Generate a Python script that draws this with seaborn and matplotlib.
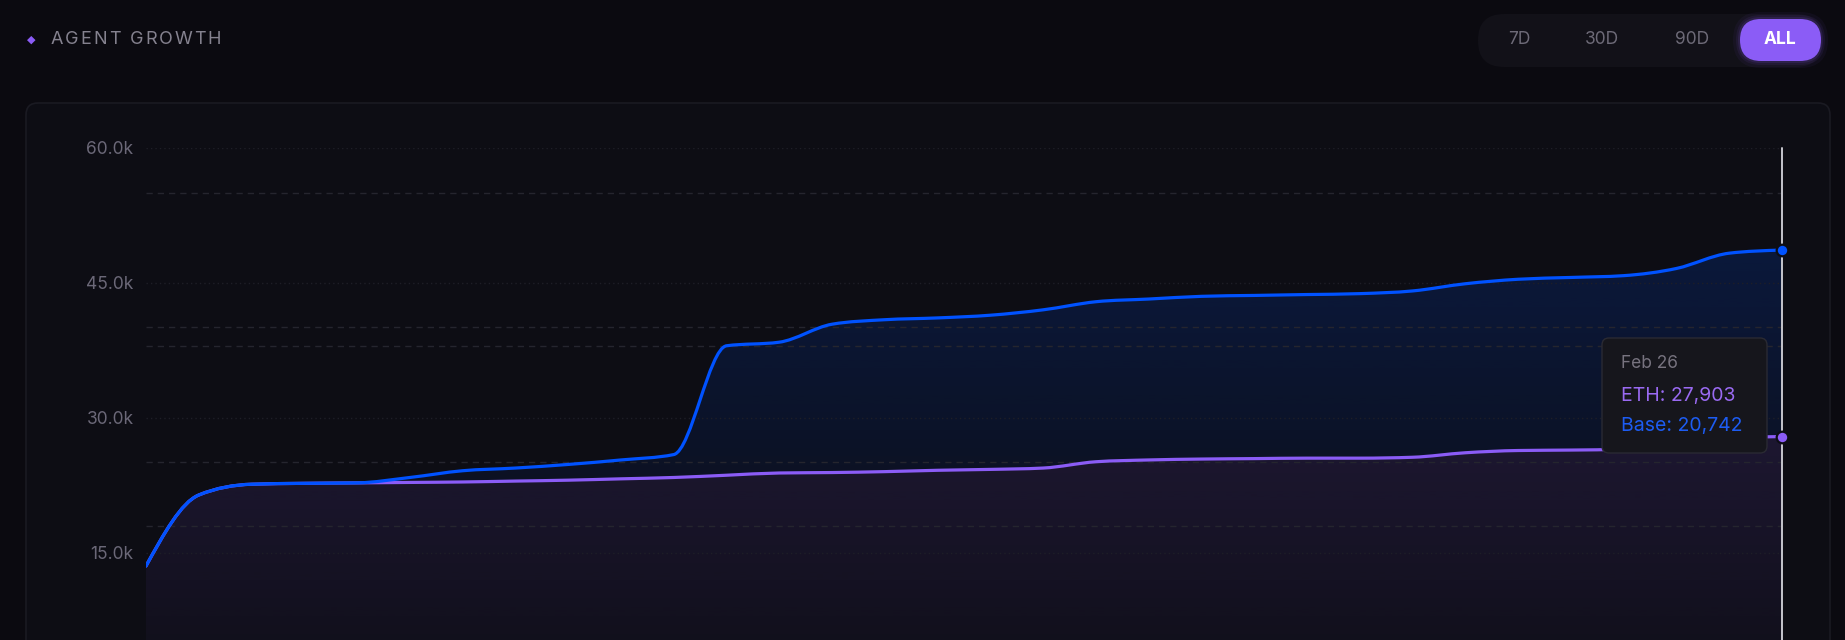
"""
Agent growth card - stacked area chart (ETH + Base), dark dashboard style.
"""

import numpy as np
import matplotlib
matplotlib.use("Agg")
import matplotlib.pyplot as plt
import seaborn as sns
from matplotlib.path import Path
from matplotlib.patches import PathPatch, FancyBboxPatch
from matplotlib.transforms import IdentityTransform
from matplotlib.ticker import FuncFormatter
from matplotlib.colors import to_rgb

W, H = 1845, 640

# ----- Data -----------------------------------------------------------------
dates = ["Jan 26", "Jan 27", "Jan 28", "Jan 29", "Jan 30", "Jan 31",
         "Feb 1", "Feb 2", "Feb 3", "Feb 4", "Feb 5", "Feb 6", "Feb 7",
         "Feb 8", "Feb 9", "Feb 10", "Feb 11", "Feb 12", "Feb 13", "Feb 14",
         "Feb 15", "Feb 16", "Feb 17", "Feb 18", "Feb 19", "Feb 20",
         "Feb 21", "Feb 22", "Feb 23", "Feb 24", "Feb 25", "Feb 26"]
eth_agents = [13500, 21400, 22600, 22700, 22750, 22800, 22850, 22950, 23050,
              23200, 23350, 23600, 23850, 23900, 24000, 24150, 24250, 24400,
              25100, 25300, 25400, 25450, 25500, 25500, 25600, 26100, 26350,
              26400, 26500, 27100, 27700, 27903]
base_agents = [0, 0, 0, 0, 0, 550, 1250, 1450, 1750, 2100, 2550, 14400,
               14550, 16500, 16900, 16950, 17150, 17600, 17800, 17900, 18100,
               18150, 18200, 18300, 18500, 18800, 19050, 19200, 19300, 19500,
               20600, 20742]
y_ticks = [15000, 30000, 45000, 60000]
dashed_levels = [18000, 25100, 38000, 40050, 55050]
ranges = ["7D", "30D", "90D", "ALL"]

ETH_COLOR = "#8b5cf6"
BASE_COLOR = "#0052ff"
PAGE_BG = "#0b0a10"
CARD_BG = "#0d0d14"

sns.set_theme(style="dark")
plt.rcParams["font.family"] = ["Inter", "DejaVu Sans"]


def px(x, y):
    # pixel (from top-left) -> figure fraction
    return x / W, 1 - y / H


def monotone_segments(xs, ys):
    # cubic bezier segments like d3's curveMonotoneX
    xs = np.asarray(xs, float)
    ys = np.asarray(ys, float)
    n = len(xs)
    h = np.diff(xs)
    s = np.diff(ys) / h
    m = np.zeros(n)
    for i in range(1, n - 1):
        p = (s[i - 1] * h[i] + s[i] * h[i - 1]) / (h[i - 1] + h[i])
        m[i] = (np.sign(s[i - 1]) + np.sign(s[i])) * min(abs(s[i - 1]), abs(s[i]), 0.5 * abs(p))
    m[0] = (3 * s[0] - m[1]) / 2
    m[-1] = (3 * s[-1] - m[-2]) / 2
    segs = []
    for i in range(n - 1):
        d = h[i] / 3
        segs.append(((xs[i], ys[i]), (xs[i] + d, ys[i] + m[i] * d),
                     (xs[i + 1] - d, ys[i + 1] - m[i + 1] * d), (xs[i + 1], ys[i + 1])))
    return segs


def curve_verts(segs, reverse=False):
    if not reverse:
        verts = [segs[0][0]]
        for p0, c1, c2, p1 in segs:
            verts += [c1, c2, p1]
    else:
        verts = [segs[-1][3]]
        for p0, c1, c2, p1 in reversed(segs):
            verts += [c2, c1, p0]
    return verts


def gradient_fill(ax, verts, codes, color, a_top, a_bot, y_top, y_bot, x0, x1, z):
    patch = PathPatch(Path(verts, codes), facecolor="none", edgecolor="none")
    ax.add_patch(patch)
    grad = np.zeros((256, 1, 4))
    grad[..., :3] = to_rgb(color)
    grad[:, 0, 3] = np.linspace(a_top, a_bot, 256)
    im = ax.imshow(grad, extent=[x0, x1, y_bot, y_top], origin="upper",
                   aspect="auto", interpolation="bilinear", zorder=z)
    im.set_clip_path(patch)


def rounded_box(fig, x, y, w, h, r, color, z, edge="none", lw=0, alpha=1):
    box = FancyBboxPatch((x, H - y - h), w, h,
                         boxstyle=f"round,pad=0,rounding_size={r}",
                         facecolor=color, edgecolor=edge, linewidth=lw,
                         alpha=alpha, transform=IdentityTransform(), zorder=z)
    fig.add_artist(box)


def spaced_text(fig, x_left, x_right, y, s, **kw):
    # letter-spaced caps title, stretched to the measured width
    renderer = fig.canvas.get_renderer()
    chars, widths = [], []
    for ch in s:
        t = fig.text(0, 0, ch if ch != " " else "n", **kw)
        w = t.get_window_extent(renderer).width
        if ch == " ":
            w *= 0.55
            t.remove()
            t = None
        chars.append(t)
        widths.append(w)
    track = ((x_right - x_left) - sum(widths)) / (len(s) - 1)
    x = x_left
    for t, w in zip(chars, widths):
        if t is not None:
            t.set_position(px(x, y))
            t.set_va("center")
        x += w + track


# ----- Figure & card --------------------------------------------------------
fig = plt.figure(figsize=(W / 100, H / 100), dpi=100, facecolor=PAGE_BG)
rounded_box(fig, 26, 103, 1804, 600, 12, CARD_BG, -2, edge="#1a1a22", lw=1.2)

y0_px, y60_px = 687.4, 148.0
ax = fig.add_axes([146 / W, (H - y0_px) / H, 1636 / W, (y0_px - y60_px) / H])
ax.set_facecolor("none")
for sp in ax.spines.values():
    sp.set_visible(False)

x = np.arange(len(dates))
eth = np.array(eth_agents, float)
total = eth + np.array(base_agents, float)

eth_segs = monotone_segments(x, eth)
tot_segs = monotone_segments(x, total)

# ETH area (bottom of stack)
v = curve_verts(eth_segs) + [(x[-1], 0), (x[0], 0), (x[0], eth[0])]
c = [Path.MOVETO] + [Path.CURVE4] * (len(v) - 4) + [Path.LINETO, Path.LINETO, Path.CLOSEPOLY]
gradient_fill(ax, v, c, ETH_COLOR, 0.13, 0.02, eth.max(), 0, x[0], x[-1], 1)

# Base area stacked on top of ETH
fwd = curve_verts(tot_segs)
back = curve_verts(eth_segs, reverse=True)
v = fwd + back + [fwd[0]]
c = ([Path.MOVETO] + [Path.CURVE4] * (len(fwd) - 1) + [Path.LINETO]
     + [Path.CURVE4] * (len(back) - 1) + [Path.CLOSEPOLY])
gradient_fill(ax, v, c, BASE_COLOR, 0.17, 0.03, total.max(), eth.min(), x[0], x[-1], 1)

# grid
for lv in y_ticks:
    ax.axhline(lv, color="#1e1e27", lw=1, linestyle=(0, (1, 2.2)), zorder=1.5)
for lv in dashed_levels:
    ax.axhline(lv, color="#25252e", lw=1, linestyle=(0, (4.5, 3.6)), zorder=1.5)

# lines
for segs, col, z in [(eth_segs, ETH_COLOR, 3), (tot_segs, BASE_COLOR, 4)]:
    vv = curve_verts(segs)
    cc = [Path.MOVETO] + [Path.CURVE4] * (len(vv) - 1)
    ax.add_patch(PathPatch(Path(vv, cc), facecolor="none", edgecolor=col,
                           lw=2.3, capstyle="round", joinstyle="round", zorder=z))

# hover crosshair + active dots
ax.axvline(x[-1], color="#c6c6ce", lw=1.4, zorder=5, clip_on=False)
sns.scatterplot(x=[x[-1]], y=[total[-1]], color=BASE_COLOR, s=70,
                edgecolor=CARD_BG, linewidth=1.6, zorder=6, clip_on=False, ax=ax)
sns.scatterplot(x=[x[-1]], y=[eth[-1]], color=ETH_COLOR, s=70,
                edgecolor=CARD_BG, linewidth=1.6, zorder=6, clip_on=False, ax=ax)

ax.set_xlim(x[0], x[-1])
ax.set_ylim(0, 60000)
ax.set_xticks([])
ax.set_yticks(y_ticks)
ax.yaxis.set_major_formatter(FuncFormatter(lambda val, _: f"{val / 1000:.1f}k"))
ax.tick_params(axis="y", length=0, pad=9, labelsize=12.5, labelcolor="#6b6878")
ax.grid(False)
ax.set_xlabel("")
ax.set_ylabel("")

# ----- Tooltip ---------------------------------------------------------------
rounded_box(fig, 1602, 338, 165, 115, 7, "#16161c", 7, edge="#2a2a33", lw=1)
fig.text(*px(1621, 363), dates[-1], color="#77737f", fontsize=12.5,
         va="center", ha="left", zorder=8)
fig.text(*px(1621, 396), f"ETH: {eth_agents[-1]:,}", color="#9a6af2",
         fontsize=14, va="center", ha="left", zorder=8)
fig.text(*px(1621, 426), f"Base: {base_agents[-1]:,}", color="#1d5cf2",
         fontsize=14, va="center", ha="left", zorder=8)

# ----- Header ----------------------------------------------------------------
fig.text(*px(31, 40), "\u25c6", color=ETH_COLOR, fontsize=8,
         family=["DejaVu Sans"], va="center", ha="center")
spaced_text(fig, 51, 221, 40, "AGENT GROWTH", color="#85828f", fontsize=13)

rounded_box(fig, 1478, 14, 344, 53, 26, "#121118", 1)
for g, a in [(7, 0.05), (4, 0.08), (2, 0.12)]:
    rounded_box(fig, 1740 - g, 19 - g, 81 + 2 * g, 42 + 2 * g, 21 + g, ETH_COLOR, 1.5, alpha=a)
rounded_box(fig, 1740, 19, 81, 42, 21, ETH_COLOR, 2)
for label, cx in zip(ranges, [1519, 1602, 1692, 1780]):
    active = label == "ALL"
    fig.text(*px(cx, 40), label, color="white" if active else "#6d6a77",
             fontsize=12.5, fontweight="bold" if active else "normal",
             va="center", ha="center", zorder=3)

fig.savefig("out.png", dpi=100, facecolor=fig.get_facecolor())
plt.close(fig)
